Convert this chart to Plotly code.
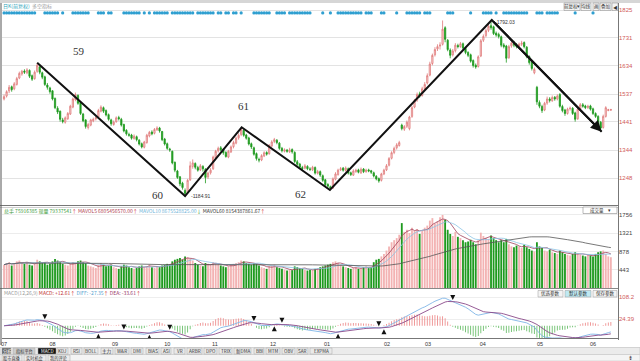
import plotly.graph_objects as go
import pandas as pd

# ---------------- data ----------------
opens = [1520,1530,1548,1562,1555,1570,1592,1606,1616,1610,
         1618,1600,1590,1615,1630,1610,1596,1568,1558,1548,
         1522,1488,1478,1448,1440,1452,1468,1492,1518,1532,
         1508,1468,1448,1422,1430,1445,1452,1458,1478,1490,
         1480,1466,1448,1432,1442,1456,1450,1432,1412,1398,
         1396,1384,1390,1378,1366,1354,1370,1393,1406,1402,
         1414,1420,1408,1382,1366,1348,1340,1302,1272,1252,
         1230,1205,1198,1242,1288,1298,1284,1276,1288,1278,
         1252,1266,1280,1318,1342,1352,1346,1336,1320,1338,
         1356,1368,1386,1398,1412,1396,1386,1366,1352,1332,
         1312,1310,1324,1336,1332,1358,1374,1378,1368,1350,
         1340,1344,1338,1346,1336,1304,1296,1284,1282,1288,
         1279,1276,1284,1264,1270,1256,1242,1226,1218,1214,
         1244,1260,1276,1282,1274,1280,1266,1258,1270,1276,
         1266,1279,1270,1276,1273,1266,1254,1246,1240,1262,
         1276,1292,1316,1336,1352,1360,1430,1416,1426,1418,
         1460,1492,1516,1538,1532,1556,1575,1602,1642,1672,
         1692,1702,1708,1765,1722,1688,1672,1686,1704,1700,
         1710,1694,1680,1672,1652,1636,1632,1668,1722,1738,
         1756,1772,1768,1746,1742,1734,1706,1702,1662,1702,
         1714,1706,1702,1708,1714,1698,1666,1646,1610,1560,
         1508,1494,1482,1506,1520,1514,1526,1520,1535,1494,
         1482,1470,1486,1488,1472,1452,1486,1500,1496,1490,
         1496,1486,1470,1460,1440,1422,1460,1480,1482]
closes = [1528,1545,1560,1552,1572,1590,1608,1615,1612,1620,
          1598,1588,1612,1636,1612,1595,1570,1560,1545,1520,
          1490,1475,1450,1442,1455,1470,1495,1520,1535,1505,
          1470,1445,1425,1432,1448,1450,1455,1480,1492,1478,
          1465,1450,1435,1440,1455,1452,1430,1410,1400,1395,
          1385,1392,1380,1365,1355,1372,1395,1405,1400,1415,
          1420,1410,1380,1365,1350,1345,1300,1275,1250,1228,
          1215,1195,1240,1290,1300,1285,1275,1290,1280,1250,
          1265,1275,1320,1340,1350,1345,1335,1322,1340,1355,
          1370,1385,1395,1415,1395,1385,1365,1355,1330,1315,
          1310,1325,1335,1330,1360,1372,1380,1370,1350,1342,
          1345,1340,1345,1338,1305,1295,1285,1280,1290,1280,
          1278,1285,1265,1270,1258,1240,1225,1220,1212,1245,
          1262,1275,1280,1275,1282,1265,1260,1272,1275,1268,
          1278,1270,1275,1272,1268,1255,1245,1238,1262,1275,
          1290,1315,1335,1350,1362,1370,1418,1425,1440,1458,
          1490,1515,1535,1530,1555,1570,1600,1640,1670,1690,
          1700,1705,1760,1725,1690,1670,1685,1705,1700,1710,
          1695,1680,1670,1650,1635,1630,1665,1720,1735,1755,
          1770,1765,1745,1740,1735,1705,1700,1660,1700,1712,
          1705,1700,1708,1712,1700,1665,1645,1625,1622,1510,
          1495,1480,1505,1520,1515,1525,1520,1530,1495,1480,
          1470,1485,1488,1470,1450,1485,1500,1495,1490,1495,
          1485,1470,1460,1440,1420,1460,1490,1483,1483]
highs = [1535,1550,1568,1566,1578,1596,1614,1620,1622,1626,
         1622,1604,1618,1644,1634,1614,1600,1575,1562,1550,
         1525,1495,1480,1455,1460,1475,1500,1525,1542,1536,
         1510,1472,1450,1438,1452,1456,1460,1486,1498,1494,
         1484,1470,1452,1446,1460,1462,1455,1435,1416,1404,
         1400,1398,1394,1382,1370,1376,1400,1410,1412,1420,
         1426,1424,1410,1386,1370,1352,1342,1305,1276,1255,
         1235,1212,1245,1305,1312,1302,1290,1296,1292,1282,
         1270,1282,1325,1345,1356,1358,1350,1340,1345,1360,
         1376,1390,1402,1423,1416,1400,1390,1370,1356,1336,
         1318,1330,1340,1340,1365,1378,1386,1382,1372,1355,
         1350,1348,1352,1350,1340,1310,1300,1290,1296,1292,
         1285,1290,1288,1276,1274,1260,1245,1230,1222,1250,
         1268,1280,1286,1286,1288,1284,1270,1278,1280,1280,
         1284,1282,1280,1280,1276,1270,1258,1250,1266,1280,
         1296,1320,1340,1356,1368,1376,1435,1430,1446,1462,
         1496,1520,1542,1545,1562,1578,1608,1648,1676,1698,
         1708,1715,1790,1770,1726,1694,1692,1712,1710,1716,
         1714,1698,1684,1676,1656,1642,1670,1726,1742,1762,
         1778,1792.03,1772,1752,1748,1738,1712,1706,1706,1718,
         1720,1712,1714,1720,1718,1702,1670,1650,1628,1565,
         1515,1500,1510,1528,1526,1532,1530,1536,1540,1500,
         1486,1490,1494,1492,1476,1490,1506,1506,1500,1500,
         1500,1490,1474,1464,1444,1466,1495,1486,1486]
lows = [1515,1525,1540,1545,1550,1566,1588,1600,1606,1605,
        1592,1582,1586,1610,1605,1588,1565,1552,1538,1515,
        1485,1468,1442,1436,1435,1448,1465,1488,1512,1500,
        1465,1440,1418,1415,1426,1440,1446,1454,1474,1472,
        1460,1445,1428,1428,1438,1446,1425,1405,1394,1390,
        1380,1380,1374,1360,1350,1350,1366,1388,1395,1398,
        1410,1404,1375,1360,1345,1338,1295,1268,1245,1220,
        1208,1184.91,1195,1238,1280,1278,1270,1272,1270,1230,
        1245,1260,1276,1314,1336,1340,1328,1318,1316,1334,
        1350,1364,1380,1392,1390,1380,1360,1348,1325,1308,
        1302,1306,1320,1325,1328,1354,1368,1364,1345,1336,
        1336,1335,1334,1332,1300,1290,1280,1275,1278,1275,
        1272,1272,1260,1260,1252,1235,1220,1214,1207,1210,
        1240,1256,1272,1270,1270,1260,1255,1255,1266,1264,
        1262,1265,1266,1268,1262,1250,1240,1232,1236,1258,
        1272,1288,1312,1330,1346,1356,1412,1410,1420,1412,
        1455,1488,1510,1524,1528,1550,1570,1598,1636,1666,
        1685,1690,1704,1715,1684,1660,1666,1680,1694,1696,
        1690,1674,1664,1645,1628,1624,1628,1664,1716,1732,
        1750,1758,1740,1734,1728,1698,1694,1645,1658,1696,
        1698,1694,1696,1702,1694,1660,1638,1618,1605,1500,
        1488,1472,1478,1500,1508,1510,1514,1515,1490,1474,
        1462,1466,1480,1465,1442,1448,1482,1490,1485,1486,
        1480,1465,1455,1435,1410,1418,1456,1478,1479]
volumes = [560,600,620,540,580,640,660,600,580,620,
           560,540,600,680,640,600,620,560,580,640,
           700,660,620,580,560,540,580,620,600,640,
           660,620,600,540,520,500,480,560,600,560,
           520,540,560,500,480,460,520,560,540,500,
           480,460,480,520,540,500,520,560,500,480,
           520,500,540,560,580,560,640,680,700,720,
           680,760,740,700,660,600,560,540,520,600,
           580,560,620,600,580,540,520,500,520,560,
           580,600,620,660,640,600,580,560,600,580,
           540,500,480,460,520,540,560,500,480,460,
           440,420,440,430,520,500,480,460,440,420,
           430,440,460,480,500,520,540,560,580,620,
           640,600,560,520,500,480,460,480,500,460,
           480,500,520,480,500,620,680,700,760,820,
           900,1000,1100,1150,1200,1280,1560,1350,1400,1320,
           1450,1380,1420,1300,1380,1450,1500,1620,1680,1550,
           1600,1700,1756,1640,1400,1300,1250,1350,1230,1200,
           1150,1100,1120,1160,1100,1050,1150,1330,1250,1200,
           1180,1260,1200,1150,1100,1150,1100,1180,1050,1000,
           980,1020,1000,960,1040,980,940,900,880,1100,
           1000,960,900,880,920,860,840,820,900,860,
           820,800,780,820,860,840,800,780,760,800,
           780,760,820,860,880,900,820,760,740]
idx = list(range(len(closes)))

# month labels on the bottom axis (bar index of each month start)
month_pos = [0, 19, 43.5, 64, 82.7, 105.5, 126.7, 150.2, 166.3, 187.8, 210.2, 231]
month_lbl = ["07", "08", "09", "10", "11", "12", "01", "02", "03", "04", "05", "06"]

# wave (zigzag) turning points
zz_idx = [13, 71, 93.2, 127.8, 191.3, 234.4]
zz_price = [1644.7, 1186, 1422.5, 1206.8, 1791.6, 1407.4]
wave_lbl = ["59", "60", "61", "62"]

# signal dots on top row (bar indices)
dot_idx = (list(range(0, 13)) + list(range(16, 22)) + [23] + list(range(27, 34)) +
           [37, 38, 39, 41, 42] + list(range(47, 54)) + [55, 57] + list(range(59, 65)) +
           list(range(66, 75)) + list(range(76, 83)) + [84, 85, 87, 88, 90, 91, 93] +
           list(range(98, 105)) + list(range(107, 111)) + list(range(112, 121)) +
           [125, 128] + list(range(131, 141)) + [142, 143, 144, 148, 149, 154] +
           list(range(158, 164)) + [165, 166, 167, 174, 175, 176, 183, 188, 189, 190, 191, 193] +
           list(range(196, 206)) + [209, 210, 211] + list(range(213, 218)) + [224, 231])

price_ticks = [1825, 1731, 1634, 1537, 1441, 1344, 1248]
vol_ticks = [1756, 1321, 878, 443]
macd_ticks = [108.2, 24.39]

# ---------------- derived indicators ----------------
cs = pd.Series(closes, dtype=float)
ema12 = cs.ewm(span=12, adjust=False).mean()
ema26 = cs.ewm(span=26, adjust=False).mean()
diff = ema12 - ema26
dea = diff.ewm(span=9, adjust=False).mean()
hist = 2 * (diff - dea)
vs = pd.Series(volumes, dtype=float)
ma5 = vs.rolling(5, min_periods=1).mean()
ma10 = vs.rolling(10, min_periods=1).mean()
ma60 = vs.rolling(60, min_periods=1).mean()

up = [c >= o for o, c in zip(opens, closes)]
UPC, DNC = "#f3b3b3", "#1f9a1f"
UPL = "#e07a7a"

W, H = 640, 361
def px(x): return x / W
def py(y): return 1 - y / H

XR = [-0.8, 240.8]
FONT = "Liberation Sans"
CJK = "Noto Sans CJK SC"

fig = go.Figure()

# main candles
fig.add_trace(go.Candlestick(
    x=idx, open=opens, high=highs, low=lows, close=closes,
    increasing=dict(line=dict(color=UPL, width=0.8), fillcolor="#fbdede"),
    decreasing=dict(line=dict(color=DNC, width=0.8), fillcolor=DNC),
    xaxis="x", yaxis="y", hoverinfo="skip", showlegend=False))

# zigzag
fig.add_trace(go.Scatter(x=zz_idx, y=zz_price, mode="lines",
                         line=dict(color="#111", width=2), xaxis="x", yaxis="y",
                         showlegend=False, hoverinfo="skip"))
# dots
fig.add_trace(go.Scatter(x=dot_idx, y=[1816] * len(dot_idx), mode="markers",
                         marker=dict(color="#2f9fd0", size=3.2), xaxis="x", yaxis="y",
                         showlegend=False, hoverinfo="skip"))

# volume
fig.add_trace(go.Bar(x=idx, y=volumes, width=0.72,
                     marker=dict(color=[UPC if u else DNC for u in up],
                                 line=dict(width=0)),
                     xaxis="x2", yaxis="y2", showlegend=False, hoverinfo="skip"))
fig.add_trace(go.Scatter(x=idx, y=ma5, mode="lines", line=dict(color="#a0405a", width=0.8),
                         xaxis="x2", yaxis="y2", showlegend=False, hoverinfo="skip"))
fig.add_trace(go.Scatter(x=idx, y=ma10, mode="lines", line=dict(color="#8cc4e4", width=0.8),
                         xaxis="x2", yaxis="y2", showlegend=False, hoverinfo="skip"))
fig.add_trace(go.Scatter(x=idx, y=ma60, mode="lines", line=dict(color="#555555", width=0.8),
                         xaxis="x2", yaxis="y2", showlegend=False, hoverinfo="skip"))

# MACD
fig.add_trace(go.Bar(x=idx, y=hist, width=0.35,
                     marker=dict(color=["#ee8f8f" if h >= 0 else "#6cbf6c" for h in hist],
                                 line=dict(width=0)),
                     xaxis="x3", yaxis="y3", showlegend=False, hoverinfo="skip"))
fig.add_trace(go.Scatter(x=idx, y=diff, mode="lines", line=dict(color="#7fb6e6", width=0.9),
                         xaxis="x3", yaxis="y3", showlegend=False, hoverinfo="skip"))
fig.add_trace(go.Scatter(x=idx, y=dea, mode="lines", line=dict(color="#8a4a8a", width=0.9),
                         xaxis="x3", yaxis="y3", showlegend=False, hoverinfo="skip"))

# crosses of DIFF/DEA -> small arrows
cx, cy, cs_sym = [], [], []
for i in range(1, len(idx)):
    if diff[i - 1] < dea[i - 1] and diff[i] >= dea[i]:
        cx.append(i); cy.append(dea[i] - 6); cs_sym.append("arrow-up")
    elif diff[i - 1] > dea[i - 1] and diff[i] <= dea[i]:
        cx.append(i); cy.append(dea[i] + 6); cs_sym.append("arrow-down")
fig.add_trace(go.Scatter(x=cx, y=cy, mode="markers",
                         marker=dict(symbol=cs_sym, color="#111", size=5),
                         xaxis="x3", yaxis="y3", showlegend=False, hoverinfo="skip"))

xdom = [px(2), px(618)]
common_x = dict(range=XR, domain=xdom, showgrid=False, zeroline=False, showticklabels=False,
                fixedrange=True)
fig.update_layout(
    width=W, height=H, margin=dict(l=0, r=0, t=0, b=0),
    paper_bgcolor="white", plot_bgcolor="white", boxgap=0.3,
    font=dict(family=FONT, size=6, color="#333"),
    xaxis=dict(**common_x, anchor="y", rangeslider=dict(visible=False)),
    xaxis2=dict(**common_x, anchor="y2", matches="x"),
    xaxis3=dict(range=XR, domain=xdom, showgrid=False, zeroline=False, matches="x",
                anchor="y3", tickmode="array", tickvals=month_pos, ticktext=month_lbl,
                ticks="", ticklabelstandoff=0,
                tickfont=dict(size=5.5, color="#333", family=FONT),
                showline=True, linecolor="#777", linewidth=1),
    yaxis=dict(domain=[py(205), py(8)], range=[1155.2, 1832.9], side="right",
               anchor="x", tickmode="array", tickvals=price_ticks,
               ticktext=[str(t) for t in price_ticks],
               tickfont=dict(size=6, color="#d05a5a", family=FONT),
               showgrid=True, gridcolor="#e3e3e3", gridwidth=1, zeroline=False),
    yaxis2=dict(domain=[py(288), py(207)], range=[0, 1947], side="right", anchor="x2",
                tickmode="array", tickvals=vol_ticks, ticktext=[str(t) for t in vol_ticks],
                tickfont=dict(size=6, color="#444", family=FONT),
                showgrid=True, gridcolor="#ececec", zeroline=False),
    yaxis3=dict(domain=[py(338), py(290)], range=[-46, 134.9], side="right", anchor="x3",
                tickmode="array", tickvals=macd_ticks, ticktext=["108.2", "24.39"],
                tickfont=dict(size=6, color="#d05a5a", family=FONT),
                showgrid=True, gridcolor="#eeeeee", zeroline=False),
    bargap=0.3,
)

shapes = []
def rect(x0, y0, x1, y1, fill, line="#aaa", w=0.5):
    shapes.append(dict(type="rect", xref="paper", yref="paper", x0=px(x0), x1=px(x1),
                       y0=py(y1), y1=py(y0), fillcolor=fill, line=dict(color=line, width=w)))
def hline(y, x0=0, x1=618, color="#999", w=1):
    shapes.append(dict(type="line", xref="paper", yref="paper", x0=px(x0), x1=px(x1),
                       y0=py(y), y1=py(y), line=dict(color=color, width=w)))
def vline(x, y0, y1, color="#888", w=1):
    shapes.append(dict(type="line", xref="paper", yref="paper", x0=px(x), x1=px(x),
                       y0=py(y0), y1=py(y1), line=dict(color=color, width=w)))
hline(205.5, color="#777")
hline(207.5, color="#cfcfcf")
hline(288.5, color="#888")
vline(618.5, 0, 340, color="#777")
vline(1, 0, 345, color="#555")
# top toolbar strip
rect(0, 0, 640, 3, "#d6d6d6", line="#d6d6d6", w=0)
# bottom tab strips
rect(0, 347.5, 640, 354.5, "#ebebeb", line="#b0b0b0")
rect(0, 354.5, 640, 361, "#f4f4f4", line="#c0c0c0")

anns = []
def txt(x, y, t, size=6, color="#333", anchor="left", family=CJK, **kw):
    anns.append(dict(xref="paper", yref="paper", x=px(x), y=py(y), text=t, showarrow=False,
                     xanchor=anchor, yanchor="middle", font=dict(size=size, color=color, family=family), **kw))

# wave labels
lbl_pos = [(79, 51.5), (158, 195), (243, 106), (300, 193.5)]
for (lx, ly), t in zip(lbl_pos, wave_lbl):
    txt(lx, ly, t, size=11, color="#333", anchor="center", family="Liberation Serif")

# low / high value labels
lo_i = lows.index(min(lows)); hi_i = highs.index(max(highs))
anns.append(dict(x=lo_i + 1.5, y=lows[lo_i], xref="x", yref="y", text=f"-{lows[lo_i]:.2f}",
                 showarrow=False, xanchor="left", yanchor="middle",
                 font=dict(size=5, color="#333", family=FONT)))
anns.append(dict(x=hi_i + 0.6, y=highs[hi_i] - 8, xref="x", yref="y", text=f"-{highs[hi_i]:.2f}",
                 showarrow=False, xanchor="left", yanchor="middle",
                 font=dict(size=5, color="#333", family=FONT)))
# arrowhead of final wave segment
anns.append(dict(x=zz_idx[-1], y=zz_price[-1], ax=zz_idx[-2], ay=zz_price[-2],
                 xref="x", yref="y", axref="x", ayref="y", text="", showarrow=True,
                 arrowhead=2, arrowsize=1.1, arrowwidth=2, arrowcolor="#111"))

# header texts
txt(1, 6, "<span style='color:#2a9fb8'>日K(前复权)</span>  <span style='color:#999'>多空指标</span>", size=5)
txt(2, 210.5, "<span style='color:#3a9a3a'>总手 75916385 现量 79337541</span><span style='color:#d03030'>↑</span> "
    "<span style='color:#b04050'>MAVOL5 6805456570.00</span><span style='color:#d03030'>↑</span> "
    "<span style='color:#6fb3d8'>MAVOL10 8675528825.00</span><span style='color:#3a9a3a'>↓</span> "
    "<span style='color:#333'>MAVOL60 8154387861.67</span><span style='color:#d03030'>↑</span>", size=5)
txt(2, 292.5, "<span style='color:#999'>MACD(12,26,9)</span> <span style='color:#c03030'>MACD: +12.61</span><span style='color:#d03030'>↑</span> "
    "<span style='color:#5a9fd0'>DIFF: -27.35</span><span style='color:#d03030'>↑</span> "
    "<span style='color:#9a3a6a'>DEA: -33.61</span><span style='color:#d03030'>↑</span>", size=5)

def tab(x0, x1, y0, y1, t, bg="#e9e9e9", fg="#333", size=5, border="#a8a8a8"):
    rect(x0, y0, x1, y1, bg, line=border)
    anns.append(dict(xref="paper", yref="paper", x=px((x0 + x1) / 2), y=py((y0 + y1) / 2),
                     text=t, showarrow=False, xanchor="center", yanchor="middle",
                     font=dict(size=size, color=fg, family=CJK)))

# top right buttons
tab(564, 580, 3, 10.5, "前复权▾", bg="#f4f4f4", border="#888", size=4.5)
tab(581, 591, 3, 10.5, "均线", bg="#f4f4f4", border="#888", size=4.5)
tab(593, 599, 3, 10.5, "画", bg="#f4f4f4", border="#888", size=4.5)
tab(600, 611, 3, 10.5, "叠加", bg="#f4f4f4", border="#888", size=4.5)
tab(612, 618, 3, 10.5, "◀", bg="#f4f4f4", border="#888", size=4.5)
# volume dropdown
tab(583, 617, 207, 213.5, "成交量    ▾", bg="#ffffff", border="#777", size=4.5)
# macd buttons
tab(538, 563, 290.5, 297, "优选参数", bg="#f4f4f4", border="#999", size=4.5)
tab(565, 591, 290.5, 297, "默认参数", bg="#bfe9f2", border="#999", size=4.5)
tab(593, 617, 290.5, 297, "保存参数", bg="#f4f4f4", border="#999", size=4.5)

# bottom tabs
tabs1 = [(2, 11, "分析"), (13, 35, "指标平台"), (38, 56, "MACD"), (57, 68, "KDJ"),
         (71, 82, "RSI"), (84, 98, "BOLL"), (101, 113, "主力"), (115, 129, "W&R"),
         (131, 143, "DMI"), (146, 159, "BIAS"), (161, 171, "ASI"), (174, 185, "VR"),
         (187, 202, "ARBR"), (204, 217, "DPO"), (219, 232, "TRIX"), (234, 251, "新DMA"),
         (254, 264, "BBI"), (266, 280, "MTM"), (282, 295, "OBV"), (297, 308, "SAR"),
         (310, 332, "EXPMA")]
for x0, x1, t in tabs1:
    if t == "MACD":
        tab(x0, x1, 348, 354, t, bg="#111111", fg="#ffffff", size=4.6)
    elif t == "分析":
        tab(x0, x1, 348, 354, t, bg="#666666", fg="#ffffff", size=4.2)
    elif t == "指标平台":
        tab(x0, x1, 348, 354, t, bg="#cccccc", size=4.2)
    else:
        tab(x0, x1, 348, 354, t, size=4.6)
for x0, x1, t in [(2, 22, "股市直播"), (24, 46, "实时机会"), (48, 70, "我的评论")]:
    tab(x0, x1, 355, 361, t, bg="#ececec", size=4.2)
txt(630, 357.5, "⇟", size=6, color="#333", anchor="center")

fig.update_layout(shapes=shapes, annotations=anns)
fig.write_html("out.html", config={"displayModeBar": False, "staticPlot": True},
               post_script="document.body.style.margin='0px';document.body.style.overflow='hidden';")
